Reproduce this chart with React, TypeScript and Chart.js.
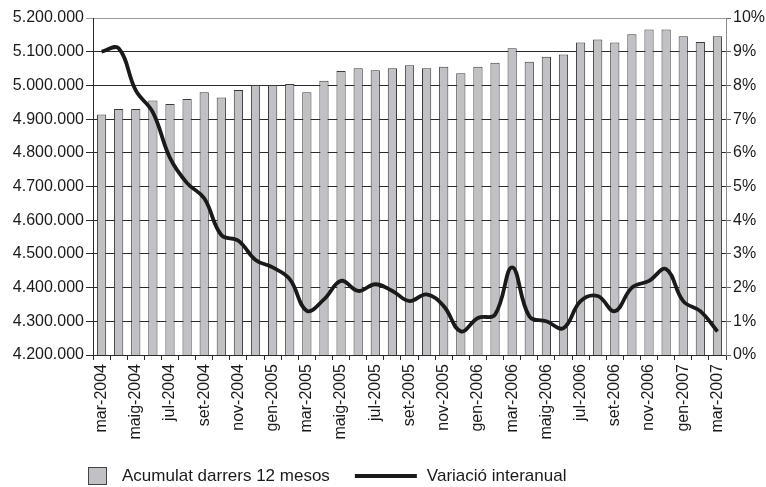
import React, { useEffect, useRef } from 'react';
import { Chart, registerables } from 'chart.js';

Chart.register(...registerables);

const months = [
  'mar-2004', 'abr-2004', 'maig-2004', 'juny-2004', 'jul-2004', 'ag-2004', 'set-2004', 'oct-2004', 'nov-2004', 'des-2004',
  'gen-2005', 'febr-2005', 'mar-2005', 'abr-2005', 'maig-2005', 'juny-2005', 'jul-2005', 'ag-2005', 'set-2005', 'oct-2005', 'nov-2005', 'des-2005',
  'gen-2006', 'febr-2006', 'mar-2006', 'abr-2006', 'maig-2006', 'juny-2006', 'jul-2006', 'ag-2006', 'set-2006', 'oct-2006', 'nov-2006', 'des-2006',
  'gen-2007', 'febr-2007', 'mar-2007',
];

const accumulated = [
  4914000, 4930000, 4930000, 4955000, 4945000, 4960000, 4980000, 4964000, 4986000, 5001000,
  5001000, 5004000, 4980000, 5014000, 5043000, 5051000, 5045000, 5051000, 5060000, 5051000,
  5055000, 5036000, 5055000, 5067000, 5110000, 5070000, 5085000, 5092000, 5127000, 5136000,
  5127000, 5152000, 5166000, 5166000, 5146000, 5129000, 5146000,
];

const variation = [
  9.0, 9.1, 7.85, 7.2, 5.85, 5.1, 4.65, 3.56, 3.39, 2.82,
  2.6, 2.25, 1.31, 1.65, 2.2, 1.9, 2.1, 1.9, 1.6, 1.8,
  1.45, 0.7, 1.1, 1.2, 2.6, 1.15, 1.0, 0.8, 1.6, 1.75,
  1.3, 2.0, 2.2, 2.55, 1.6, 1.3, 0.7,
];

const leftMin = 4200000;
const leftMax = 5200000;
const leftStep = 100000;
const rightMin = 0;
const rightMax = 10;
const rightStep = 1;

const seriesNames = ['Acumulat darrers 12 mesos', 'Variació interanual'];

const FONT = '"Liberation Sans", Arial, sans-serif';
const TEXT = '#1a1a1a';
const BAR_FILL = '#c0c1c5';
const BAR_BORDER = '#3a3a3a';
const LINE_COLOR = '#1a1a1a';
const GRID = '#2a2a2a';

function fmtThousands(v: number): string {
  return String(Math.round(v)).replace(/\B(?=(\d{3})+(?!\d))/g, '.');
}

const legendPlugin = {
  id: 'customLegend',
  afterDraw(chart: any) {
    const { ctx, chartArea } = chart;
    const y = chart.height - 11;
    const x0 = Math.round(chartArea.left) - 5;
    ctx.save();
    ctx.fillStyle = BAR_FILL;
    ctx.strokeStyle = '#444';
    ctx.lineWidth = 1;
    ctx.fillRect(x0 + 0.5, y - 8.5, 18, 17);
    ctx.strokeRect(x0 + 0.5, y - 8.5, 18, 17);
    ctx.font = `17px ${FONT}`;
    ctx.fillStyle = TEXT;
    ctx.textBaseline = 'middle';
    ctx.textAlign = 'left';
    const tx = x0 + 34;
    ctx.fillText(seriesNames[0], tx, y);
    const w = ctx.measureText(seriesNames[0]).width;
    const lx = tx + w + 25;
    ctx.beginPath();
    ctx.moveTo(lx, y);
    ctx.lineTo(lx + 62, y);
    ctx.lineWidth = 4;
    ctx.strokeStyle = LINE_COLOR;
    ctx.stroke();
    ctx.fillText(seriesNames[1], lx + 72, y);
    ctx.restore();
  },
};

export default function App() {
  const ref = useRef<HTMLCanvasElement | null>(null);

  useEffect(() => {
    if (!ref.current) return;
    const chart = new Chart(ref.current, {
      type: 'bar',
      data: {
        labels: months,
        datasets: [
          {
            type: 'line',
            label: seriesNames[1],
            data: variation,
            yAxisID: 'y1',
            borderColor: LINE_COLOR,
            borderWidth: 3.8,
            pointRadius: 0,
            tension: 0.4,
            fill: false,
            order: 0,
          } as any,
          {
            type: 'bar',
            label: seriesNames[0],
            data: accumulated,
            yAxisID: 'y',
            backgroundColor: BAR_FILL,
            borderColor: BAR_BORDER,
            borderWidth: 1,
            categoryPercentage: 1,
            barPercentage: 0.54,
            order: 1,
          },
        ],
      },
      options: {
        responsive: false,
        animation: false,
        layout: { padding: { top: 18, bottom: 45, left: 0, right: 0 } },
        plugins: {
          legend: { display: false },
          tooltip: { enabled: false },
        },
        scales: {
          x: {
            grid: { drawOnChartArea: false, drawTicks: true, tickLength: 5, color: GRID, offset: true },
            border: { color: GRID, width: 1 },
            ticks: {
              autoSkip: false,
              minRotation: 90,
              maxRotation: 90,
              padding: 4,
              color: TEXT,
              font: { family: FONT, size: 16 },
              callback: (_v: any, i: number) => (i % 2 === 0 ? months[i] : ''),
            },
            afterFit: (s: any) => { s.height = 87; },
          },
          y: {
            position: 'left',
            min: leftMin,
            max: leftMax,
            grid: {
              color: (c: any) => (c.tick && c.tick.value === leftMax ? '#9a9a9a' : GRID),
              tickLength: 7,
            },
            border: { color: GRID, width: 1 },
            ticks: {
              stepSize: leftStep,
              padding: 2,
              color: TEXT,
              font: { family: FONT, size: 16 },
              callback: (v: any) => fmtThousands(Number(v)),
            },
            afterFit: (s: any) => { s.width = 93; },
          },
          y1: {
            position: 'right',
            min: rightMin,
            max: rightMax,
            grid: { drawOnChartArea: false, tickLength: 5, color: '#666' },
            border: { color: '#8a8a8a', width: 1 },
            ticks: {
              stepSize: rightStep,
              padding: 2,
              color: TEXT,
              font: { family: FONT, size: 16 },
              callback: (v: any) => `${v}%`,
            },
            afterFit: (s: any) => { s.width = 40; },
          },
        },
      },
      plugins: [legendPlugin],
    });
    return () => chart.destroy();
  }, []);

  return (
    <div style={{ position: 'absolute', left: 0, top: 0, width: 766, height: 487, background: '#fff' }}>
      <canvas ref={ref} width={766} height={487} style={{ display: 'block' }} />
    </div>
  );
}
